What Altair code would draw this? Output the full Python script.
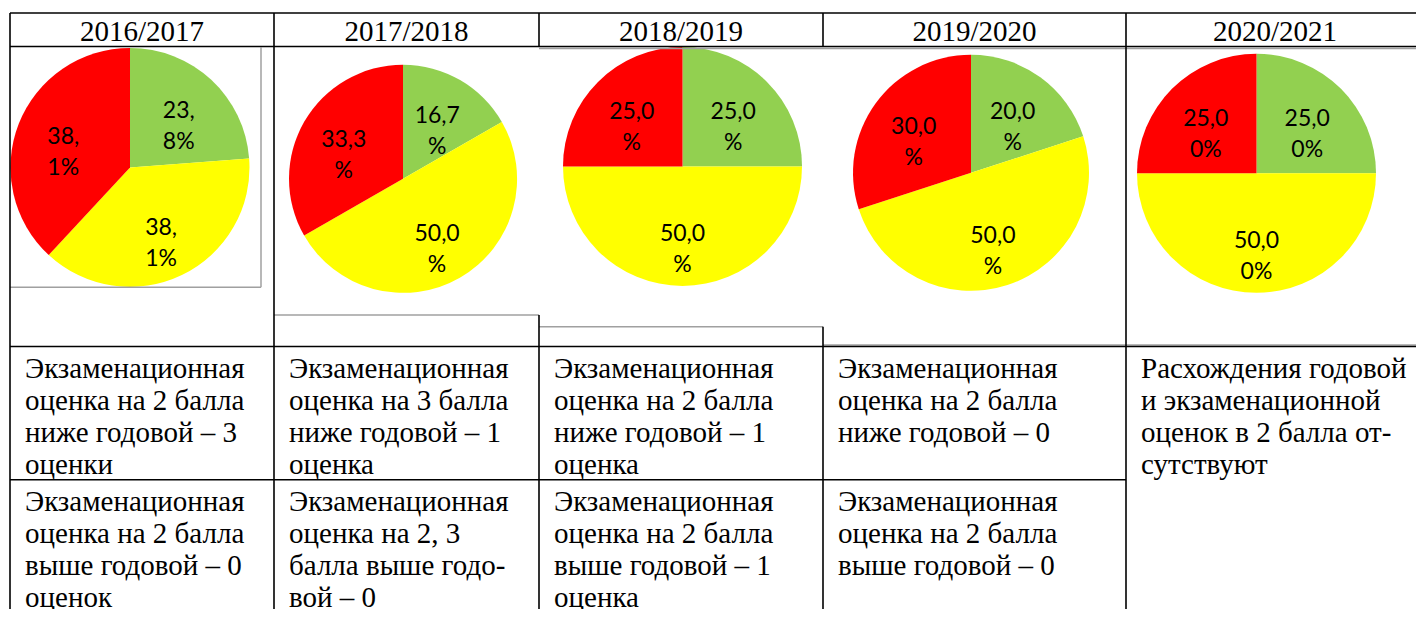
import altair as alt
import pandas as pd

# ---------------- data ----------------
years = ["2016/2017", "2017/2018", "2018/2019", "2019/2020", "2020/2021"]
categories = ["green", "yellow", "red"]          # clockwise from 12 o'clock
green_values = [23.8, 16.7, 25.0, 20.0, 25.0]
yellow_values = [38.1, 50.0, 50.0, 50.0, 50.0]
red_values = [38.1, 33.3, 25.0, 30.0, 25.0]
green_labels = ["23,\n8%", "16,7\n%", "25,0\n%", "20,0\n%", "25,0\n0%"]
yellow_labels = ["38,\n1%", "50,0\n%", "50,0\n%", "50,0\n%", "50,0\n0%"]
red_labels = ["38,\n1%", "33,3\n%", "25,0\n%", "30,0\n%", "25,0\n0%"]

row1_texts = [
    "Экзаменационная\nоценка на 2 балла\nниже годовой – 3\nоценки",
    "Экзаменационная\nоценка на 3 балла\nниже годовой – 1\nоценка",
    "Экзаменационная\nоценка на 2 балла\nниже годовой – 1\nоценка",
    "Экзаменационная\nоценка на 2 балла\nниже годовой – 0",
    "Расхождения годовой\nи экзаменационной\nоценок в 2 балла от-\nсутствуют",
]
row2_texts = [
    "Экзаменационная\nоценка на 2 балла\nвыше годовой – 0\nоценок",
    "Экзаменационная\nоценка на 2, 3\nбалла выше годо-\nвой – 0",
    "Экзаменационная\nоценка на 2 балла\nвыше годовой – 1\nоценка",
    "Экзаменационная\nоценка на 2 балла\nвыше годовой – 0",
    "",
]

# ---------------- layout (page pixels) ----------------
col_edges = [10, 274, 539, 823, 1126, 1424]
pie_cx = [130, 403, 682.5, 971, 1256.5]
pie_cy = [169.5, 181, 168.5, 175, 175.5]
pie_r = [119.5, 114, 119.5, 118, 119.5]
label_radius_frac = 0.6
label_line_height = 31
header_baseline = 41.5
row_baselines = [383, 518]
text_indent = 15
text_line_height = 32
serif = "Liberation Serif, DejaVu Serif, serif"

black_segments = [  # x1, y1, x2, y2
    (10, 13, 1424, 13), (10, 47, 1424, 47), (10, 351, 1424, 351), (10, 486, 1126, 486),
    (10, 13, 10, 617), (274, 13, 274, 617), (539, 13, 539, 47), (539, 319, 539, 617),
    (823, 13, 823, 47), (823, 331, 823, 617), (1126, 13, 1126, 617),
]
gray_segments = [
    (261, 48, 261, 291), (10, 291, 261, 291), (274, 319, 539, 319),
    (539, 331, 823, 331), (823, 349.5, 1424, 349.5), (539, 49, 1424, 49),
]

colors = {"green": "#92D050", "yellow": "#FFFF00", "red": "#FF0000"}

# ---------------- tables ----------------
vals = {"green": green_values, "yellow": yellow_values, "red": red_values}
labs = {"green": green_labels, "yellow": yellow_labels, "red": red_labels}
pie_rows = []
for i, yr in enumerate(years):
    for k, cat in enumerate(categories):
        pie_rows.append(dict(year=yr, cat=cat, order=k, value=vals[cat][i],
                             label=labs[cat][i], cx=pie_cx[i], cy=pie_cy[i], r=pie_r[i]))
pie_df = pd.DataFrame(pie_rows)

header_df = pd.DataFrame({
    "text": years,
    "x": [(col_edges[i] + col_edges[i + 1]) / 2 for i in range(5)],
    "y": [header_baseline] * 5,
})
cell_rows = []
for r, texts in enumerate([row1_texts, row2_texts]):
    for i, t in enumerate(texts):
        if t:
            cell_rows.append(dict(text=t, x=col_edges[i] + text_indent, y=row_baselines[r]))
cell_df = pd.DataFrame(cell_rows)

black_df = pd.DataFrame(black_segments, columns=["x", "y", "x2", "y2"])
gray_df = pd.DataFrame(gray_segments, columns=["x", "y", "x2", "y2"])

# plot area must stay inside the 1424x617 window (8px page margin on every side)
W, H = 1408, 601
XS = alt.Scale(domain=[8, 8 + W], range=[0, W], nice=False, zero=False)
YS = alt.Scale(domain=[8, 617], range=[0, H], nice=False, zero=False)

pie_base = (
    alt.Chart(pie_df)
    .transform_joinaggregate(total="sum(value)", groupby=["year"])
    .transform_window(cum="sum(value)", sort=[alt.SortField("order")],
                      groupby=["year"], frame=[None, 0])
    .transform_calculate(
        t1="datum.cum / datum.total * 2 * PI",
        t0="(datum.cum - datum.value) / datum.total * 2 * PI",
    )
    .transform_calculate(tm="(datum.t0 + datum.t1) / 2", lr=f"datum.r * {label_radius_frac}")
)

arcs = pie_base.mark_arc().encode(
    x=alt.X("cx:Q", scale=XS, axis=None),
    y=alt.Y("cy:Q", scale=YS, axis=None),
    theta=alt.Theta("t0:Q", scale=None, stack=False),
    theta2="t1:Q",
    radius=alt.Radius("r:Q", scale=None),
    color=alt.Color("cat:N", scale=alt.Scale(domain=categories,
                                             range=[colors[c] for c in categories]),
                    legend=None),
)

labels = pie_base.mark_text(
    font="Lato", fontSize=23, lineBreak="\n", lineHeight=label_line_height,
    align="center", baseline="middle", color="black", dy=-4,
).encode(
    x=alt.X("cx:Q", scale=XS, axis=None),
    y=alt.Y("cy:Q", scale=YS, axis=None),
    theta=alt.Theta("tm:Q", scale=None, stack=False),
    radius=alt.Radius("lr:Q", scale=None),
    text="label:N",
)

gray_lines = alt.Chart(gray_df).mark_rule(color="#a0a0a0", strokeWidth=1.5).encode(
    x=alt.X("x:Q", scale=XS, axis=None), y=alt.Y("y:Q", scale=YS, axis=None),
    x2="x2:Q", y2="y2:Q",
)
black_lines = alt.Chart(black_df).mark_rule(color="black", strokeWidth=1.6).encode(
    x=alt.X("x:Q", scale=XS, axis=None), y=alt.Y("y:Q", scale=YS, axis=None),
    x2="x2:Q", y2="y2:Q",
)

headers = alt.Chart(header_df).mark_text(
    font=serif, fontSize=29, align="center", baseline="alphabetic", color="black",
).encode(
    x=alt.X("x:Q", scale=XS, axis=None), y=alt.Y("y:Q", scale=YS, axis=None), text="text:N",
)

cells = alt.Chart(cell_df).mark_text(
    font=serif, fontSize=29, align="left", baseline="alphabetic",
    lineBreak="\n", lineHeight=text_line_height, color="black",
).encode(
    x=alt.X("x:Q", scale=XS, axis=None), y=alt.Y("y:Q", scale=YS, axis=None), text="text:N",
)

chart = (
    alt.layer(arcs, labels, gray_lines, black_lines, headers, cells)
    .properties(width=W, height=H, autosize=alt.AutoSizeParams(type="none"), padding=0)
    .configure_view(strokeWidth=0)
)

chart.save("out.html", embed_options={"renderer": "svg", "actions": False})
